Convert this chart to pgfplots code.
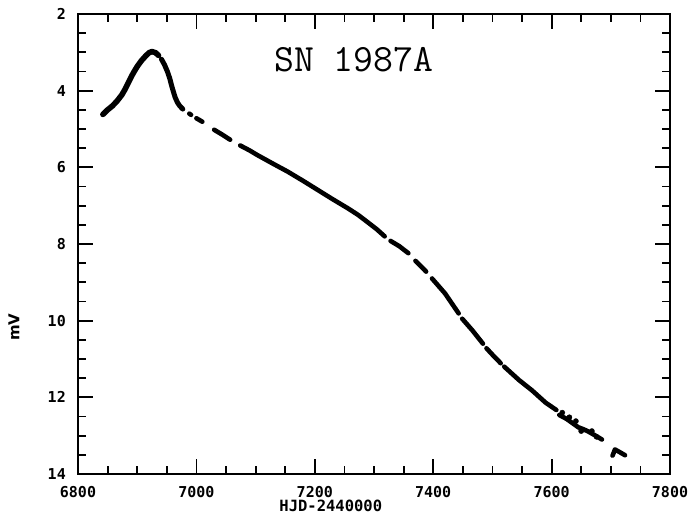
\documentclass[border=0pt]{standalone}
\usepackage{fontspec}
\setmainfont{DejaVu Sans}
\newfontfamily\tickfont{DejaVu Sans Mono}
\usepackage{pgfplots}
\pgfplotsset{compat=1.18}
\begin{document}
\begin{tikzpicture}
\useasboundingbox (-78bp,-41bp) rectangle (616bp,474bp);
\begin{axis}[
  scale only axis, width=592bp, height=460bp,
  xmin=6800, xmax=7800, ymin=2, ymax=14, y dir=reverse,
  xtick={6800,7000,7200,7400,7600,7800},
  xticklabels={6800,7000,7200,7400,7600,7800},
  ytick={2,4,6,8,10,12,14},
  yticklabels={2,4,6,8,10,12,14},
  minor x tick num=3, minor y tick num=3,
  tick align=inside, major tick length=15bp, minor tick length=8bp,
  axis line style={line width=1.8bp},
  every tick/.style={line width=1.8bp, black},
  xticklabel style={font=\tickfont\bfseries\fontsize{15bp}{16bp}\selectfont, inner sep=0pt, yshift=-12bp},
  yticklabel style={font=\tickfont\bfseries\fontsize{15bp}{16bp}\selectfont, inner sep=0pt, xshift=-12bp},
  clip=false,
  seg/.style={black, line width=4.6bp, line cap=round, line join=round, mark=none},
]
% rise and peak
\addplot[seg, line width=5.6bp] coordinates {(6842,4.62) (6850,4.50) (6858,4.40) (6866,4.27) (6874,4.11) (6880,3.95) (6886,3.76) (6893,3.55) (6900,3.37) (6907,3.22) (6914,3.10) (6920,3.01) (6925,2.98) (6931,3.01) (6936,3.08)};
\addplot[seg, line width=5bp] coordinates {(6941,3.18) (6946,3.32) (6951,3.50) (6955,3.68) (6958,3.86) (6961,4.02) (6964,4.17) (6968,4.31) (6972,4.40) (6977,4.48)};
\addplot[seg] coordinates {(6988,4.60) (6991,4.63)};
\addplot[seg] coordinates {(7000,4.72) (7010,4.81)};
\addplot[seg] coordinates {(7030,5.02) (7044,5.15) (7057,5.28)};
% decline
\addplot[seg] coordinates {(7074,5.43) (7090,5.56) (7103,5.68) (7130,5.91) (7154,6.11) (7180,6.35) (7205,6.59) (7230,6.83) (7256,7.07) (7273,7.24) (7290,7.44) (7305,7.62) (7318,7.80)};
\addplot[seg] coordinates {(7328,7.92) (7343,8.06) (7358,8.24)};
\addplot[seg] coordinates {(7370,8.44) (7388,8.72)};
\addplot[seg] coordinates {(7398,8.90) (7420,9.29) (7443,9.81)};
\addplot[seg] coordinates {(7449,9.95) (7466,10.25) (7484,10.60)};
\addplot[seg] coordinates {(7490,10.72) (7502,10.92) (7514,11.11)};
\addplot[seg] coordinates {(7520,11.20) (7545,11.55) (7567,11.82) (7590,12.14) (7608,12.33)};
\addplot[seg] coordinates {(7613,12.46) (7625,12.56) (7636,12.68) (7645,12.78) (7655,12.84) (7663,12.90) (7672,12.98) (7685,13.10)};
\addplot[only marks, mark=*, mark size=2.6bp, black] coordinates {(7618,12.40) (7630,12.52) (7641,12.62) (7650,12.88) (7668,12.88) (7676,13.03)};
\addplot[seg] coordinates {(7703,13.52) (7707,13.36) (7714,13.42) (7724,13.51)};
\node[font=\ttfamily\fontsize{38.6bp}{40bp}\selectfont, anchor=base, inner sep=0pt] at (axis cs:7266,3.51) {SN 1987A};
\node[font=\tickfont\bfseries\fontsize{15.5bp}{16bp}\selectfont, anchor=base, inner sep=0pt] at ([yshift=-37.5bp]axis cs:7227,14) {HJD-2440000};
\node[font=\bfseries\fontsize{15bp}{17bp}\selectfont, rotate=90, inner sep=0pt] at ([xshift=-64bp]axis cs:6800,10.17) {mV};
\end{axis}
\end{tikzpicture}
\end{document}
